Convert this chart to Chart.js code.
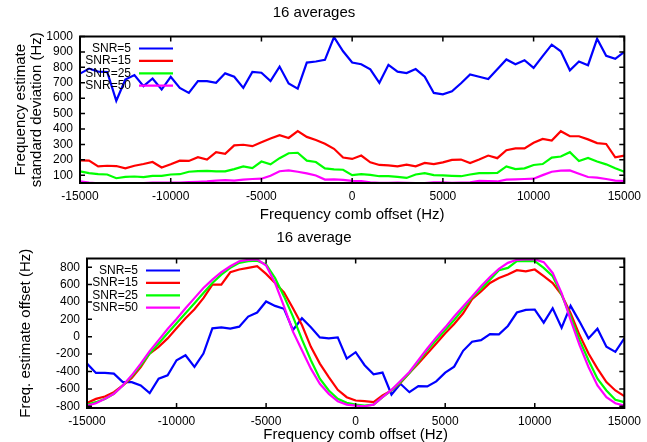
<!DOCTYPE html>
<html>
<head>
<meta charset="utf-8">
<script src="https://cdn.jsdelivr.net/npm/chart.js@4.4.0/dist/chart.umd.min.js"></script>
<style>
  html, body { margin:0; padding:0; background:#fff; overflow:hidden; }
  #wrap { position:relative; width:647px; height:442px; overflow:hidden; }
  canvas { position:absolute; left:0; }
  #top { top:0; }
  #bot { top:228px; }
</style>
</head>
<body>
<div id="wrap">
  <canvas id="top" width="647" height="228"></canvas>
  <canvas id="bot" width="647" height="222"></canvas>
</div>
<script>
// --- Data ---
const freqs = [-15000,-14500,-14000,-13500,-13000,-12500,-12000,-11500,-11000,-10500,
  -10000,-9500,-9000,-8500,-8000,-7500,-7000,-6500,-6000,-5500,
  -5000,-4500,-4000,-3500,-3000,-2500,-2000,-1500,-1000,-500,
  0,500,1000,1500,2000,2500,3000,3500,4000,4500,
  5000,5500,6000,6500,7000,7500,8000,8500,9000,9500,
  10000,10500,11000,11500,12000,12500,13000,13500,14000,14500,15000];
const snrLabels = ['SNR=5','SNR=15','SNR=25','SNR=50'];
const snrColors = ['#0000ff','#ff0000','#00ff00','#ff00ff'];

const xTicks = [-15000,-10000,-5000,0,5000,10000,15000];
const yTicksStd = [100,200,300,400,500,600,700,800,900,1000];
const yTicksOff = [-800,-600,-400,-200,0,200,400,600,800];

// top: standard deviation (Hz)
const std5  = [759,792,772,770,583,721,750,678,728,656,739,667,634,711,711,700,761,739,667,770,765,711,805,695,662,831,838,849,996,904,
  831,820,787,700,816,772,763,789,739,634,625,645,697,754,739,724,787,851,820,846,796,873,947,904,781,838,814,985,875,855,901];
const std15 = [197,195,158,162,160,145,162,173,186,151,171,195,193,217,202,250,239,294,298,289,314,338,360,342,386,349,329,305,272,215,
  206,228,184,167,164,158,169,158,180,173,184,200,202,180,202,228,211,263,274,274,311,336,325,386,353,353,333,309,303,217,228];
const std25 = [125,114,107,105,81,90,92,88,96,96,105,107,123,127,129,125,125,140,158,147,189,171,211,243,246,195,186,145,138,136,
  101,107,103,94,94,90,83,105,114,101,99,96,94,105,114,114,116,158,140,145,167,173,215,222,250,193,213,189,171,145,123];
const std50 = [61,52,48,48,48,48,50,50,52,52,52,52,56,58,61,66,68,66,72,76,78,97,126,132,123,112,99,72,74,70,
  64,62,55,51,51,53,51,49,49,55,55,51,53,55,64,62,60,72,74,76,78,101,123,130,132,110,89,85,76,65,63];

// bottom: estimate offset (Hz)
const off5  = [-309,-417,-417,-425,-522,-522,-560,-649,-483,-444,-270,-213,-348,-193,97,108,93,116,232,278,406,355,321,77,213,108,-8,-19,-8,-251,
  -178,-328,-433,-413,-665,-541,-638,-568,-572,-514,-413,-344,-162,-58,-39,31,27,124,278,309,313,162,328,104,355,174,-19,93,-116,-174,-19];
const off15 = [-761,-715,-688,-638,-560,-475,-348,-193,-116,-19,97,213,317,444,599,599,742,773,792,811,723,618,510,328,135,-116,-309,-464,-611,-696,
  -734,-742,-753,-676,-618,-533,-417,-309,-193,-77,39,147,270,433,522,618,676,715,765,753,773,696,618,483,270,19,-193,-367,-522,-618,-684];
const off25 = [-781,-753,-715,-657,-560,-456,-328,-193,-77,39,155,270,386,502,618,715,792,850,870,875,831,676,464,232,-31,-270,-483,-618,-715,-761,
  -781,-792,-781,-696,-618,-522,-417,-290,-155,-39,77,193,317,452,549,657,765,792,869,869,869,792,696,483,232,-39,-270,-483,-618,-726,-753];
const off50 = [-792,-765,-715,-657,-560,-444,-309,-166,-39,89,205,328,444,560,657,742,811,869,885,890,819,618,348,58,-155,-367,-541,-657,-742,-781,
  -792,-800,-781,-696,-611,-510,-406,-270,-135,-8,108,232,348,464,580,688,781,850,885,890,890,858,734,502,193,-97,-348,-560,-696,-765,-792];

// --- Helpers ---
const FONT = "'Liberation Sans', Arial, Helvetica, sans-serif";
Chart.defaults.color = '#000';
Chart.defaults.font.family = FONT;

function makeSets(list){
  return list.map((vals,i)=>({
    label: snrLabels[i],
    data: freqs.map((f,k)=>({x:f, y:vals[k]})),
    borderColor: snrColors[i],
    backgroundColor: snrColors[i],
    borderWidth: 2.2,
    pointRadius: 0,
    tension: 0,
    order: list.length - i   // magenta on top, like gnuplot
  }));
}

// frame, inward ticks on all four sides, gnuplot style key
const framePlugin = {
  id: 'frame',
  afterDatasetsDraw(chart){
    const {ctx, chartArea:a, scales:{x, y}} = chart;
    const tl = 5;
    ctx.save();
    ctx.strokeStyle = '#000';
    ctx.lineWidth = 1.5;
    ctx.beginPath();
    x.ticks.forEach(t=>{
      const px = x.getPixelForValue(t.value);
      ctx.moveTo(px, a.bottom); ctx.lineTo(px, a.bottom - tl);
      ctx.moveTo(px, a.top); ctx.lineTo(px, a.top + tl);
    });
    y.ticks.forEach(t=>{
      const py = y.getPixelForValue(t.value);
      ctx.moveTo(a.left, py); ctx.lineTo(a.left + tl, py);
      ctx.moveTo(a.right, py); ctx.lineTo(a.right - tl, py);
    });
    ctx.stroke();
    ctx.lineWidth = 2;
    ctx.strokeRect(a.left, a.top, a.right - a.left, a.bottom - a.top);

    // key
    ctx.font = '12px ' + FONT;
    ctx.textAlign = 'right';
    ctx.textBaseline = 'middle';
    chart.data.datasets.forEach((ds,i)=>{
      const ry = a.top + 12 + i*12.4;
      ctx.fillStyle = '#000';
      ctx.fillText(ds.label, a.left + 51, ry);
      ctx.strokeStyle = ds.borderColor;
      ctx.lineWidth = 2.2;
      ctx.beginPath();
      ctx.moveTo(a.left + 59, ry);
      ctx.lineTo(a.left + 93, ry);
      ctx.stroke();
    });
    ctx.restore();
  }
};

function buildChart(id, cfg){
  return new Chart(document.getElementById(id), {
    type: 'line',
    data: { datasets: makeSets(cfg.series) },
    plugins: [framePlugin],
    options: {
      responsive: false,
      animation: false,
      devicePixelRatio: 1,
      layout: { padding: { left:0, right:19, top:0, bottom:cfg.padBottom } },
      plugins: {
        legend: { display:false },
        tooltip: { enabled:false },
        title: {
          display: true,
          text: cfg.title,
          color: '#000',
          font: { size:15, weight:'normal', lineHeight:1.2 },
          padding: cfg.titlePad
        }
      },
      scales: {
        x: {
          type: 'linear',
          min: -15000, max: 15000,
          grid: { display:false, drawTicks:false },
          border: { display:false },
          afterBuildTicks: s => { s.ticks = xTicks.map(v=>({value:v})); },
          afterFit: s => { s.height = cfg.xHeight; },
          ticks: { padding:6, font:{size:12}, maxRotation:0, autoSkip:false, callback: v => String(v) },
          title: { display:true, text:'Frequency comb offset (Hz)', font:{size:15, lineHeight:1.2}, padding:0 }
        },
        y: {
          min: cfg.yMin, max: cfg.yMax,
          grid: { display:false, drawTicks:false },
          border: { display:false },
          afterBuildTicks: s => { s.ticks = cfg.yTicks.map(v=>({value:v})); },
          afterFit: s => { s.width = cfg.yWidth; },
          ticks: { padding:7, font:{size:12}, autoSkip:false, callback: v => String(v) },
          title: { display:true, text:cfg.yTitle, font:{size:15, lineHeight:1.1}, padding:{top:cfg.yTitlePad, bottom:0} }
        }
      }
    }
  });
}

buildChart('top', {
  series: [std5, std15, std25, std50],
  title: '16 averages',
  titlePad: { top:3.5, bottom:15 },
  yMin: 50, yMax: 1000,
  yTicks: yTicksStd,
  yWidth: 80,
  yTitle: ['Frequency estimate','standard deviation (Hz)'],
  yTitlePad: 12.5,
  xHeight: 41,
  padBottom: 4
});

buildChart('bot', {
  series: [off5, off15, off25, off50],
  title: '16 average',
  titlePad: { top:1, bottom:11.5 },
  yMin: -820, yMax: 900,
  yTicks: yTicksOff,
  yWidth: 87,
  yTitle: 'Freq. estimate offset (Hz)',
  yTitlePad: 17.5,
  xHeight: 36,
  padBottom: 6
});
</script>
</body>
</html>
